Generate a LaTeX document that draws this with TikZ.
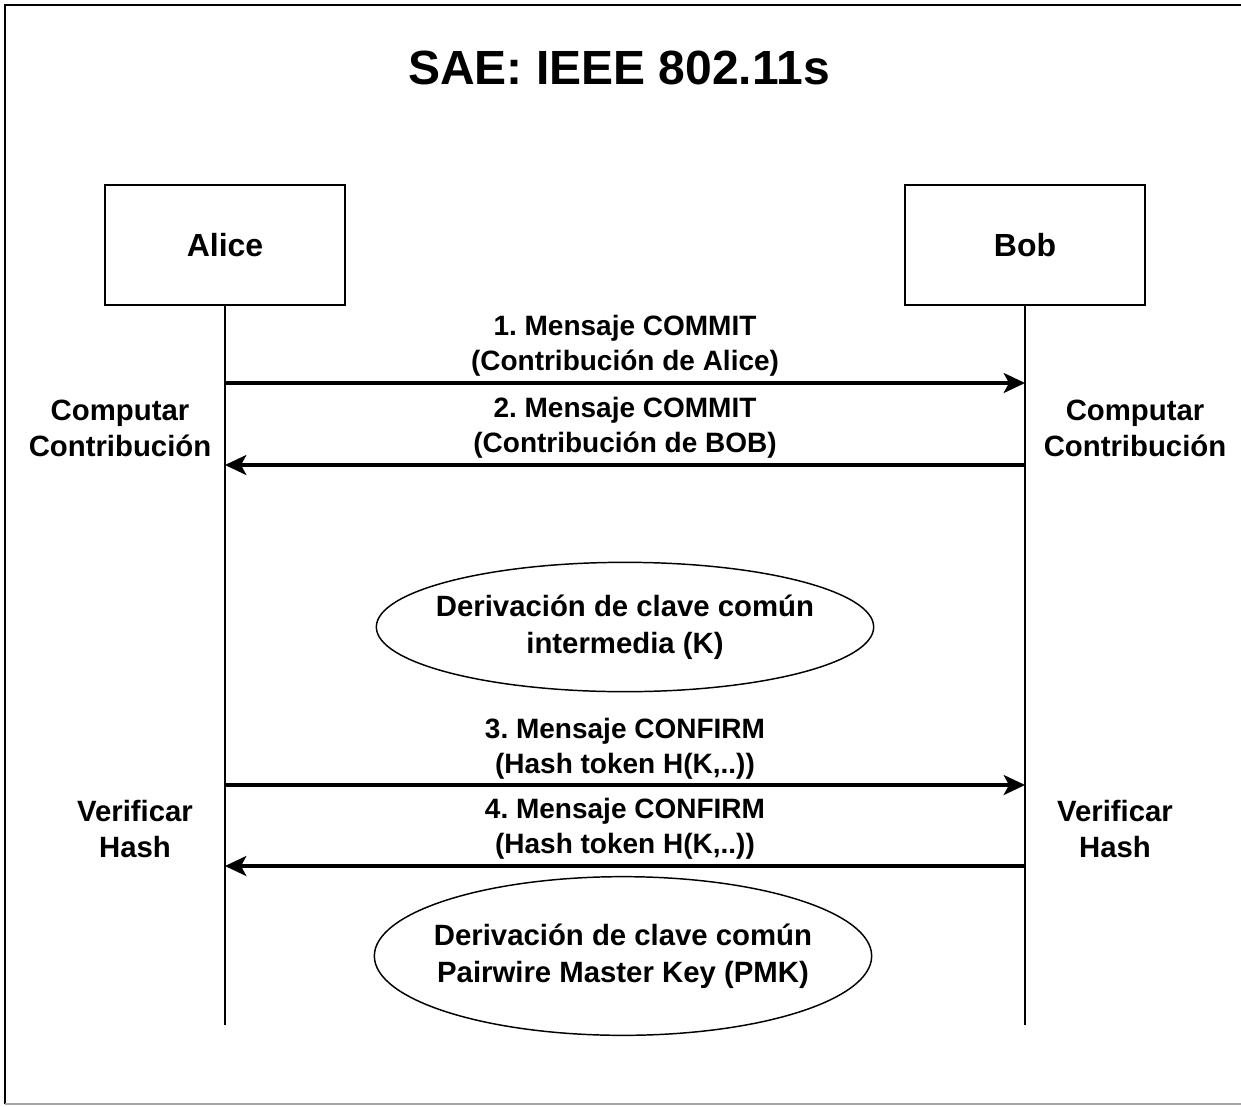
\documentclass[tikz,border=0pt]{standalone}
\usepackage{fontspec}
\setmainfont{Liberation Sans}
\usepackage{tikz}
\usetikzlibrary{arrows.meta, positioning, shapes.geometric}
\frenchspacing

\begin{document}
\begin{tikzpicture}[
    x=0.75pt, y=-0.75pt,
    actor/.style={draw,line width=1.4pt,minimum width=180pt,minimum height=90pt,
      font=\fontsize{24}{28}\selectfont\bfseries},
    lifeline/.style={line width=1.1pt},
    msg/.style={align=center,font=\fontsize{21}{26}\selectfont\bfseries},
    note/.style={align=center,font=\fontsize{22}{27}\selectfont\bfseries},
    keybox/.style={draw,ellipse,line width=1.1pt,inner xsep=-20pt,inner ysep=-15pt,
      align=center,minimum width=373pt,font=\fontsize{22}{28}\selectfont\bfseries},
    arrow/.style={-{Stealth[length=16pt,width=15pt,inset=4pt]},line width=2.4pt},
  ]
  \useasboundingbox (0,0) rectangle (1241,1106);

  % frame
  \draw[line width=1.6pt] (1250,5) -- (5,5) -- (5,1104);
  \draw[line width=1.2pt,gray!70] (5,1104) -- (1250,1104);

  % title
  \node[font=\fontsize{36}{40}\selectfont\bfseries] (title) at (619,68) {SAE: IEEE 802.11s};

  % Alice and Bob
  \node[actor] (alice) at (225,245) {Alice};
  \node[actor] (bob) at (1025,245) {Bob};
  \coordinate (aliceEnd) at (225,1025);
  \coordinate (bobEnd) at (1025,1025);
  \draw[lifeline] (alice.south) -- (aliceEnd);
  \draw[lifeline] (bob.south) -- (bobEnd);

  % points on the lifelines
  \coordinate (a1) at (225,383);  \coordinate (b1) at (1025,383);
  \coordinate (a2) at (225,465);  \coordinate (b2) at (1025,465);
  \coordinate (a3) at (225,785);  \coordinate (b3) at (1025,785);
  \coordinate (a4) at (225,866);  \coordinate (b4) at (1025,866);

  % COMMIT exchange
  \draw[arrow] (a1) -- (b1);
  \node[msg] (m1) at (625,346) {1. Mensaje COMMIT\\(Contribución de Alice)};
  \draw[arrow] (b2) -- (a2);
  \node[msg] (m2) at (625,428) {2. Mensaje COMMIT\\(Contribución de BOB)};
  \node[note] (compA) at (120,428) {Computar\\Contribución};
  \node[note] (compB) at (1135,428) {Computar\\Contribución};

  % intermediate key
  \node[keybox,minimum height=97pt] (kint) at (625,627)
    {Derivación de clave común\\intermedia (K)};

  % CONFIRM exchange
  \draw[arrow] (a3) -- (b3);
  \node[msg] (m3) at (625,749) {3. Mensaje CONFIRM\\(Hash token H(K,..))};
  \draw[arrow] (b4) -- (a4);
  \node[msg] (m4) at (625,829) {4. Mensaje CONFIRM\\(Hash token H(K,..))};
  \node[note] (verA) at (135,829) {Verificar\\Hash};
  \node[note] (verB) at (1115,829) {Verificar\\Hash};

  % PMK
  \node[keybox,minimum height=119pt] (kpmk) at (623,956)
    {Derivación de clave común\\Pairwire Master Key (PMK)};
\end{tikzpicture}
\end{document}
